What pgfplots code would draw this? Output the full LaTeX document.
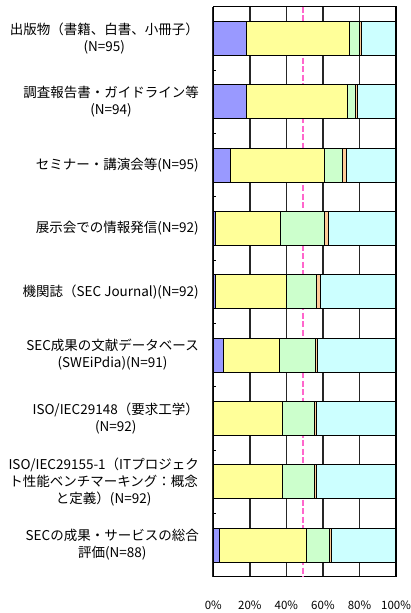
\documentclass[border=0pt]{standalone}
\usepackage{pgfplots}
\usepackage{pgfplotstable}
\pgfplotsset{compat=1.18}
\usepackage{fontspec}
\setmainfont{Noto Sans CJK JP}
\definecolor{cblue}{HTML}{9999FF}
\definecolor{cyellow}{HTML}{FFFF99}
\definecolor{cgreen}{HTML}{CCFFCC}
\definecolor{corange}{HTML}{FFCC99}
\definecolor{ccyan}{HTML}{CCFFFF}
\definecolor{cpink}{HTML}{FF66CC}
\pgfplotstableread{
i b y g o c
0 17.9 56.8 5.3 1.1 18.9
1 18.1 55.3 4.3 1.1 21.2
2 9.5 51.6 9.5 2.1 27.3
3 1.1 35.9 23.9 2.2 36.9
4 1.1 39.1 16.3 2.2 41.3
5 5.5 30.8 19.8 1.1 42.8
6 0 38.0 17.4 1.1 43.5
7 0 38.0 17.4 1.1 43.5
8 3.4 47.7 12.5 1.1 35.3
}\data
\begin{document}
\begin{tikzpicture}
\begin{axis}[
  scale only axis, width=182.7pt, height=570pt,
  xbar stacked, bar width=34pt,
  xmin=0, xmax=100, ymin=-0.5, ymax=8.5, y dir=reverse,
  xtick={0,20,...,100}, xticklabels={0\%,20\%,40\%,60\%,80\%,100\%},
  ytick={0,...,8},
  yticklabels={
    {出版物（書籍、白書、小冊子）\\(N=95)},
    {調査報告書・ガイドライン等\\(N=94)},
    {セミナー・講演会等(N=95)},
    {展示会での情報発信(N=92)},
    {機関誌（SEC Journal)(N=92)},
    {SEC成果の文献データベース\\(SWEiPdia)(N=91)},
    {ISO/IEC29148（要求工学）\\(N=92)},
    {ISO/IEC29155-1（ITプロジェク\\ト性能ベンチマーキング：概念\\と定義）(N=92)},
    {SECの成果・サービスの総合\\評価(N=88)}},
  minor ytick={0.5,1.5,...,7.5},
  major tick length=0pt, minor tick length=3pt, tick align=inside,
  xtick pos=bottom, ytick pos=left,
  xmajorgrids, major x grid style={draw=black!85, line width=1.6pt},
  minor tick style={black, line width=1pt},
  axis line style={black, line width=1.3pt},
  yticklabel style={align=center, font=\fontsize{13.5}{17}\selectfont, xshift=-11pt},
  xticklabel style={font=\fontsize{11.5}{14}\selectfont, yshift=-21pt},
  clip=false,
]
\addplot[fill=cblue, draw=black, line width=1pt] table[x=b, y=i] \data;
\addplot[fill=cyellow, draw=black, line width=1pt] table[x=y, y=i] \data;
\addplot[fill=cgreen, draw=black, line width=1pt] table[x=g, y=i] \data;
\addplot[fill=corange, draw=black, line width=1pt] table[x=o, y=i] \data;
\addplot[fill=ccyan, draw=black, line width=1pt] table[x=c, y=i] \data;
\draw[cpink, line width=1.6pt, dash pattern=on 6pt off 2.5pt] (axis cs:49,-0.5) -- (axis cs:49,8.5);
\coordinate (TL) at (axis cs:0,-0.5);
\coordinate (BR) at (axis cs:100,8.5);
\end{axis}
\pgfresetboundingbox
\path ([xshift=-213.3pt, yshift=6.7pt]TL) rectangle ([xshift=14pt, yshift=-36.3pt]BR);
\end{tikzpicture}
\end{document}
